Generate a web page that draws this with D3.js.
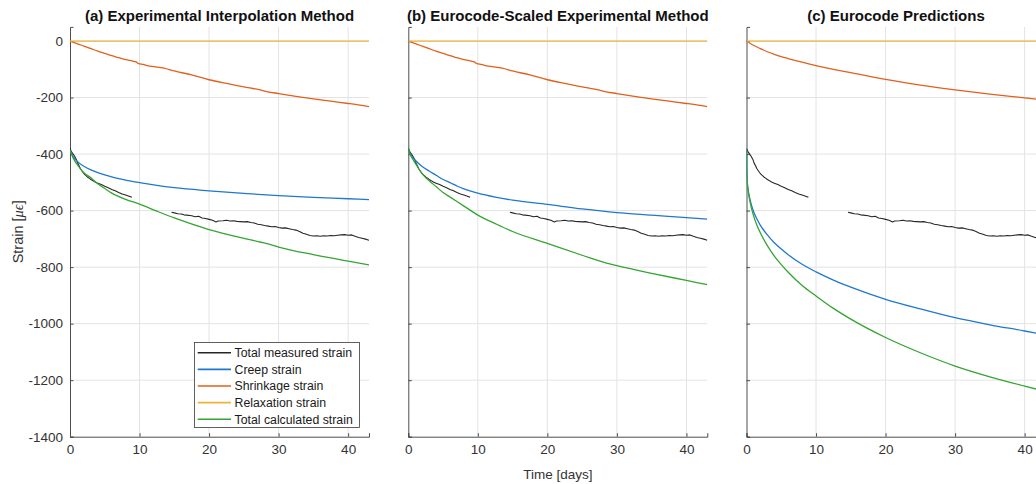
<!DOCTYPE html>
<html>
<head>
<meta charset="utf-8">
<script src="https://cdn.jsdelivr.net/npm/d3@7"></script>
<style>
  body { margin: 0; background: #fff; }
  svg { display: block; }
  text { font-family: "Liberation Sans", Arial, Helvetica, sans-serif; }
</style>
</head>
<body>
<svg id="chart" width="1036" height="484"></svg>
<script>
// ---- labels and ticks ----
const panelTitles = [
  "(a) Experimental Interpolation Method",
  "(b) Eurocode-Scaled Experimental Method",
  "(c) Eurocode Predictions"
];
const legendLabels = [
  "Total measured strain",
  "Creep strain",
  "Shrinkage strain",
  "Relaxation strain",
  "Total calculated strain"
];
const seriesColors = ["#262626", "#1f78cf", "#e2601c", "#edb43a", "#34a532"];
const xTicks = [0, 10, 20, 30, 40];
const yTicks = [-1400, -1200, -1000, -800, -600, -400, -200, 0];
const xDomain = [0, 43];
const yDomain = [-1400, 50];

// ---- measured total strain [days, microstrain], two logged periods ----
const measuredEarly = [
  [0, -380], [0.15, -388], [0.3, -395], [0.6, -405], [0.9, -418], [1.1, -432], [1.3, -441],
  [1.5, -452], [1.7, -459], [1.9, -466], [2.1, -472], [2.3, -476], [2.5, -481],
  [2.8, -486], [3.0, -490], [3.3, -494], [3.6, -499], [4.0, -503], [4.5, -508],
  [5.0, -514], [5.5, -519], [6.0, -525], [6.5, -530], [7.0, -536], [7.5, -541],
  [8.0, -545], [8.5, -549], [8.9, -553]
];
const measuredLate = [
  [14.6, -606], [15.0, -608], [15.5, -611], [16.0, -612], [16.4, -615], [16.8, -616],
  [17.5, -618], [18.0, -622], [18.5, -620], [19.0, -626], [19.5, -628], [20.0, -631],
  [20.5, -634], [21.0, -640], [21.3, -637], [22.0, -636], [22.5, -634], [23.0, -637],
  [23.5, -636], [24.0, -638], [25.0, -640], [25.5, -639], [26.0, -642], [26.5, -644],
  [27.0, -648], [27.5, -650], [28.0, -653], [28.5, -655], [29.0, -657], [29.5, -656],
  [30.0, -660], [30.5, -662], [31.0, -661], [31.5, -664], [32.0, -667], [32.5, -669],
  [33.0, -674], [33.5, -680], [34.0, -684], [34.5, -688], [35.0, -690], [35.5, -689],
  [36.0, -691], [36.5, -689], [37.0, -690], [37.5, -688], [38.0, -689], [38.5, -687],
  [39.0, -686], [39.5, -685], [40.0, -687], [40.5, -686], [41.0, -691], [41.5, -695],
  [42.0, -698], [42.5, -701], [43.0, -705]
];

// ---- shrinkage (experimental, panels a and b) ----
const shrinkageExp = [
  [0, 0], [0.5, -5], [1, -9], [2, -18], [3, -27], [4, -36], [5, -44], [6, -52],
  [7, -59], [8, -66], [9, -71], [9.5, -74], [9.8, -79], [10.5, -83], [11.5, -89],
  [12.5, -92], [13.5, -96], [15, -106], [17.5, -120], [20, -137], [22.5, -150],
  [25, -162], [27.5, -174], [28, -177], [30, -186], [32.5, -196], [35, -205],
  [37.5, -213], [40, -221], [42, -228], [43, -232]
];

// ---- panel (a) ----
const creepA = [
  [0, -386], [0.25, -398], [0.5, -410], [1, -425], [2, -443], [3, -456], [4, -466],
  [5, -474], [6, -481], [8, -492], [10, -501], [12.5, -511], [15, -519], [20, -530],
  [25, -539], [30, -547], [35, -553], [40, -558], [43, -561]
];
const totalA = [
  [0, -386], [0.25, -402], [0.5, -416], [1, -436], [2, -466], [3, -484], [4, -505],
  [5, -522], [6, -538], [8, -560], [10, -577], [12.5, -602], [15, -626], [20, -667],
  [25, -698], [27.5, -712], [28.5, -718], [30, -729], [35, -756], [40, -779], [43, -792]
];

// ---- panel (b) ----
const creepB = [
  [0, -386], [0.5, -408], [1, -422], [2, -444], [3, -460], [4, -475], [5, -490],
  [6, -501], [7, -513], [8, -523], [9, -531], [10, -538], [12.5, -552], [15, -563],
  [20, -578], [25, -594], [30, -607], [35, -616], [40, -625], [43, -630]
];
const totalB = [
  [0, -372], [0.1, -392], [0.5, -412], [1, -432], [2, -470], [3, -494], [4, -515],
  [5, -536], [6, -552], [7, -568], [8, -584], [9, -600], [10, -616], [12.5, -646],
  [15, -674], [20, -716], [25, -758], [28.5, -786], [30, -795], [35, -822],
  [40, -847], [43, -862]
];

// ---- panel (c) ----
const shrinkageC = [
  [0, 0], [0.5, -8], [1, -15], [2, -27], [3, -38], [4, -47], [5, -55], [6, -62],
  [8, -75], [10, -87], [12.5, -100], [15, -112], [20, -136], [25, -156], [30, -173],
  [35, -188], [40, -201], [43, -209]
];
const creepC = [
  [0, -386], [0.02, -450], [0.05, -475], [0.1, -495], [0.25, -528], [0.5, -560],
  [1, -602], [1.5, -630], [2, -652], [3, -686], [4, -714], [5, -736], [6, -756],
  [8, -790], [10, -817], [12.5, -846], [15, -871], [20, -914], [25, -948],
  [30, -979], [35, -1004], [40, -1026], [43, -1040]
];
const totalC = [
  [0, -386], [0.02, -451], [0.05, -477], [0.1, -498], [0.25, -532], [0.5, -568],
  [1, -617], [1.5, -652], [2, -679], [3, -724], [4, -761], [5, -791], [6, -818],
  [8, -865], [10, -902], [12.5, -946], [15, -984], [20, -1049], [25, -1103],
  [30, -1150], [35, -1188], [40, -1221], [43, -1240]
];

const relaxation = [[0, 0], [43, 0]];

// panels: series drawn in legend order
const panels = [
  { title: panelTitles[0], series: [[measuredEarly, measuredLate], [creepA], [shrinkageExp], [relaxation], [totalA]] },
  { title: panelTitles[1], series: [[measuredEarly, measuredLate], [creepB], [shrinkageExp], [relaxation], [totalB]] },
  { title: panelTitles[2], series: [[measuredEarly, measuredLate], [creepC], [shrinkageC], [relaxation], [totalC]] }
];

// ---- layout ----
const svg = d3.select("#chart");
const plotW = 299, plotTop = 26.9, plotBottom = 436.7;
const panelLeft = [70, 408.3, 746.5];
const axisColor = "#4d4d4d", gridColor = "#e3e3e3", textColor = "#333";

const y = d3.scaleLinear().domain(yDomain).range([plotBottom, plotTop]);

panels.forEach((p, i) => {
  const x0 = panelLeft[i];
  const x = d3.scaleLinear().domain(xDomain).range([x0, x0 + plotW]);
  const g = svg.append("g");

  const clipId = "clip" + i;
  svg.append("clipPath").attr("id", clipId).append("rect")
    .attr("x", x0).attr("y", plotTop).attr("width", plotW).attr("height", plotBottom - plotTop);

  // grid
  g.append("g").selectAll("line").data(xTicks.filter(d => d > 0)).join("line")
    .attr("x1", d => x(d)).attr("x2", d => x(d))
    .attr("y1", plotTop).attr("y2", plotBottom)
    .attr("stroke", gridColor).attr("stroke-width", 1);
  g.append("g").selectAll("line").data(yTicks.filter(d => d > yDomain[0])).join("line")
    .attr("x1", x0).attr("x2", x0 + plotW)
    .attr("y1", d => y(d)).attr("y2", d => y(d))
    .attr("stroke", gridColor).attr("stroke-width", 1);

  // axes with inward ticks
  const xAxis = d3.axisBottom(x).tickValues(xTicks).tickSize(-3.5).tickPadding(8).tickFormat(d3.format("d"));
  const yAxis = d3.axisLeft(y).tickValues(yTicks).tickSize(-3.5).tickPadding(7)
    .tickFormat(i === 0 ? d3.format("d") : "");
  const gx = g.append("g").attr("transform", `translate(0,${plotBottom})`).call(xAxis);
  const gy = g.append("g").attr("transform", `translate(${x0},0)`).call(yAxis);
  [gx, gy].forEach(a => {
    a.select(".domain").attr("stroke", axisColor).attr("stroke-width", 1);
    a.selectAll(".tick line").attr("stroke", axisColor);
    a.selectAll(".tick text").attr("fill", textColor).attr("font-size", 13.5)
      .attr("font-family", '"Liberation Sans", Arial, sans-serif');
  });
  gy.selectAll(".tick text").text(d => i === 0 ? String(d) : "");

  // series lines: measured data drawn as logged, calculated curves smoothed
  const rawLine = d3.line().x(d => x(d[0])).y(d => y(d[1]));
  const smoothLine = d3.line().x(d => x(d[0])).y(d => y(d[1])).curve(d3.curveMonotoneX);
  const lines = g.append("g").attr("clip-path", `url(#${clipId})`);
  p.series.forEach((segs, k) => {
    segs.forEach(seg => {
      lines.append("path").datum(seg)
        .attr("d", k === 0 ? rawLine : smoothLine)
        .attr("fill", "none")
        .attr("stroke", seriesColors[k])
        .attr("stroke-width", k === 0 ? 1.1 : 1.3)
        .attr("stroke-linejoin", "round");
    });
  });

  // title
  svg.append("text")
    .attr("x", x0 + plotW / 2).attr("y", 20.5)
    .attr("text-anchor", "middle")
    .attr("font-size", 15).attr("font-weight", "bold").attr("fill", "#111")
    .text(p.title);
});

// axis labels
svg.append("text")
  .attr("x", panelLeft[1] + plotW / 2).attr("y", 479)
  .attr("text-anchor", "middle").attr("font-size", 13.5).attr("fill", textColor)
  .text("Time [days]");

const yl = svg.append("text")
  .attr("transform", `translate(22.5,${(plotTop + plotBottom) / 2}) rotate(-90)`)
  .attr("text-anchor", "middle").attr("font-size", 14.5).attr("fill", textColor);
yl.append("tspan").text("Strain [");
yl.append("tspan").attr("font-family", '"Liberation Serif", "DejaVu Serif", serif')
  .attr("font-style", "italic").text("\u03BC\u03F5");
yl.append("tspan").text("]");

// legend
const lg = svg.append("g");
lg.append("rect")
  .attr("x", 194.5).attr("y", 342.5).attr("width", 165).attr("height", 85)
  .attr("fill", "#fff").attr("stroke", "#3a3a3a").attr("stroke-width", 0.8);
legendLabels.forEach((lab, k) => {
  const cy = 352.7 + k * 16.65;
  lg.append("line").attr("x1", 197.7).attr("x2", 231).attr("y1", cy).attr("y2", cy)
    .attr("stroke", seriesColors[k]).attr("stroke-width", 1.6);
  lg.append("text").attr("x", 234.5).attr("y", cy).attr("dy", "0.35em")
    .attr("font-size", 12.3).attr("fill", "#1a1a1a").text(lab);
});
</script>
</body>
</html>
